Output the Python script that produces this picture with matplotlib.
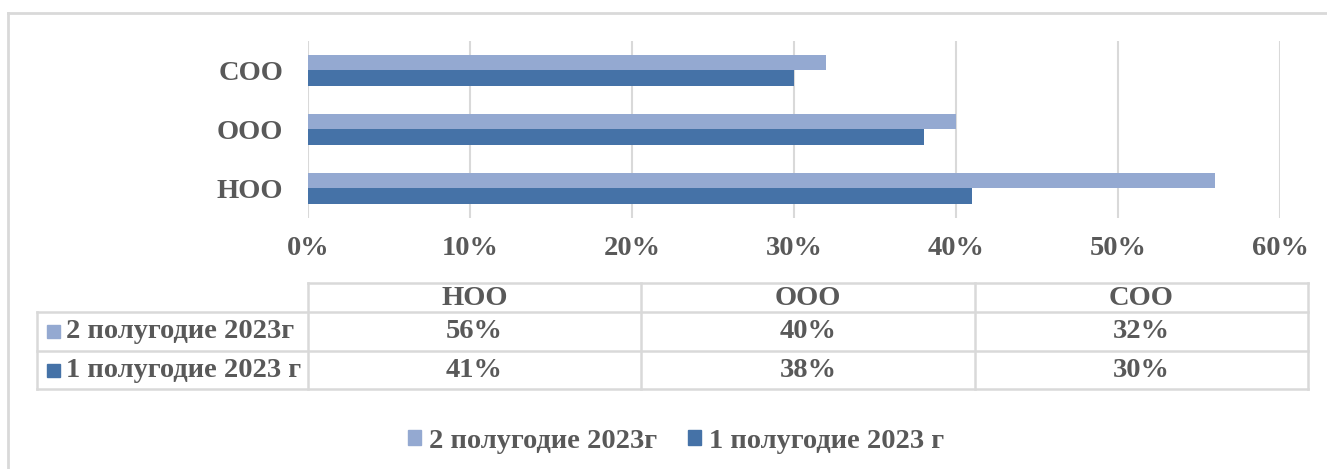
import matplotlib
matplotlib.use("Agg")
import matplotlib.pyplot as plt
from matplotlib.patches import Rectangle
from matplotlib.lines import Line2D
import numpy as np

# Data
categories = ["НОО", "ООО", "СОО"]
series_names = ["2 полугодие 2023г", "1 полугодие 2023 г"]
half2 = [56, 40, 32]
half1 = [41, 38, 30]
xticks = [0, 10, 20, 30, 40, 50, 60]

# Style
W, H = 1327, 469
light = "#94A9D1"
dark = "#4572A7"
grid_c = "#D9D9D9"
text_c = "#595959"
fsize = 20.5
font = {"family": "Liberation Serif", "weight": "bold", "size": fsize, "color": text_c}

fig = plt.figure(figsize=(W / 100, H / 100), dpi=100)


def fx(x):
    return x / W


def fy(y):
    return 1 - y / H


# outer chart border (only top and left visible)
fig.add_artist(Line2D([fx(8), fx(W)], [fy(13), fy(13)], color=grid_c, lw=2, transform=fig.transFigure))
fig.add_artist(Line2D([fx(8), fx(8)], [fy(13), fy(H)], color=grid_c, lw=2, transform=fig.transFigure))

# bar axes
ax_l, ax_r, ax_t, ax_b = 308, 1280, 41, 218
ax = fig.add_axes([fx(ax_l), fy(ax_b), fx(ax_r - ax_l), (ax_b - ax_t) / H])
y = np.arange(len(categories))
h = 0.265
ax.barh(y + h / 2, half2, height=h, color=light, zorder=3)
ax.barh(y - h / 2, half1, height=h, color=dark, zorder=3)
ax.set_xlim(0, 60)
ax.set_ylim(-0.5, 2.5)
ax.set_xticks(xticks)
ax.set_xticklabels([f"{t}%" for t in xticks])
ax.set_yticks(y)
ax.set_yticklabels(categories)
ax.grid(axis="x", color=grid_c, lw=1.5, zorder=0)
for s in ax.spines.values():
    s.set_visible(False)
ax.tick_params(length=0)
ax.tick_params(axis="x", pad=13)
ax.tick_params(axis="y", pad=18)
for lab in ax.get_xticklabels() + ax.get_yticklabels():
    lab.set_fontfamily(font["family"])
    lab.set_fontweight("bold")
    lab.set_fontsize(fsize)
    lab.set_color(text_c)

# data table
rows_y = [283, 312, 351, 389]
cols_x = [37, 308, 641, 975, 1308]


def hline(x0, x1, yy):
    fig.add_artist(Line2D([fx(x0), fx(x1)], [fy(yy), fy(yy)], color=grid_c, lw=1.8, transform=fig.transFigure))


def vline(xx, y0, y1):
    fig.add_artist(Line2D([fx(xx), fx(xx)], [fy(y0), fy(y1)], color=grid_c, lw=1.8, transform=fig.transFigure))


hline(cols_x[1], cols_x[-1], rows_y[0])
for yy in rows_y[1:]:
    hline(cols_x[0], cols_x[-1], yy)
vline(cols_x[0], rows_y[1], rows_y[-1])
for xx in cols_x[1:]:
    vline(xx, rows_y[0], rows_y[-1])

for i, cat in enumerate(categories):
    cx = (cols_x[i + 1] + cols_x[i + 2]) / 2
    fig.text(fx(cx), fy((rows_y[0] + rows_y[1]) / 2 + 1), cat, ha="center", va="center", **font)
    fig.text(fx(cx), fy((rows_y[1] + rows_y[2]) / 2), f"{half2[i]}%", ha="center", va="center", **font)
    fig.text(fx(cx), fy((rows_y[2] + rows_y[3]) / 2), f"{half1[i]}%", ha="center", va="center", **font)

for r, (name, col) in enumerate(zip(series_names, [light, dark])):
    yc = (rows_y[r + 1] + rows_y[r + 2]) / 2
    fig.add_artist(Rectangle((fx(47), fy(yc + 6.5)), fx(13), 13 / H, color=col, transform=fig.transFigure))
    fig.text(fx(66), fy(yc), name, ha="left", va="center", **font)

# legend
handles = [Rectangle((0, 0), 1, 1, color=light), Rectangle((0, 0), 1, 1, color=dark)]
fig.legend(handles, series_names, loc="center", bbox_to_anchor=(fx(676), fy(441)), ncol=2,
           frameon=False, handlelength=0.46, handleheight=0.46, handletextpad=0.28, columnspacing=1.1,
           prop={"family": "Liberation Serif", "weight": "bold", "size": fsize},
           labelcolor=text_c)

fig.savefig("out.png", dpi=100)
